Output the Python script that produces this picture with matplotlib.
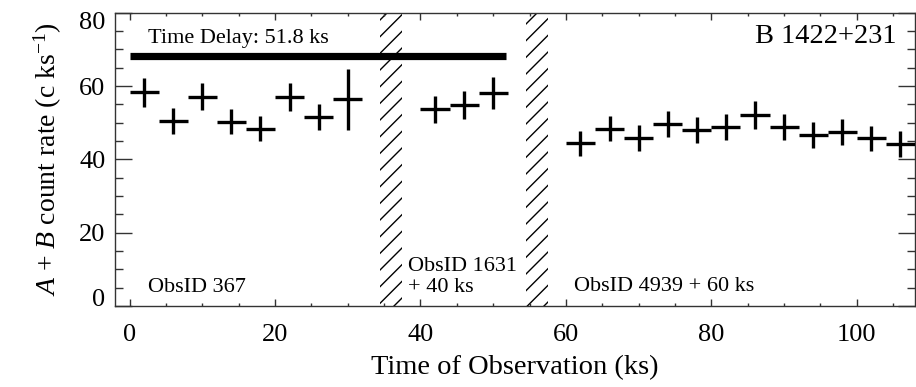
import matplotlib
matplotlib.use("Agg")
import matplotlib.pyplot as plt
from matplotlib.ticker import MultipleLocator
from matplotlib.transforms import ScaledTranslation

plt.rcParams['font.family'] = ['Liberation Serif', 'DejaVu Serif']
plt.rcParams['mathtext.fontset'] = 'custom'
plt.rcParams['mathtext.rm'] = 'Liberation Serif'
plt.rcParams['mathtext.it'] = 'Liberation Serif:italic'
plt.rcParams['hatch.linewidth'] = 1.0

# Binned light curve (4 ks bins), three Chandra observations shifted onto one time axis
times = [2, 6, 10, 14, 18, 22, 26, 30,
         42, 46, 50,
         62, 66, 70, 74, 78, 82, 86, 90, 94, 98, 102, 106]
rates = [58.3, 50.5, 57.1, 50.3, 48.4, 56.9, 51.6, 56.4,
         53.6, 54.9, 58.1,
         44.4, 48.4, 45.9, 49.6, 48.0, 48.9, 52.1, 48.9, 46.6, 47.5, 45.7, 44.2]
rate_err = [3.9, 3.5, 3.7, 3.5, 3.5, 3.8, 3.6, 8.3,
            3.6, 3.8, 4.3,
            3.4, 3.5, 3.5, 3.5, 3.5, 3.6, 3.7, 3.5, 3.5, 3.6, 3.4, 3.5]
bin_half_width = 2.0

# Gaps between observations
gaps = [(34.5, 37.5), (54.5, 57.5)]

time_delay = 51.8
delay_level = 68.2

xticks = [0, 20, 40, 60, 80, 100]
yticks = [0, 20, 40, 60, 80]

fig = plt.figure(figsize=(9.16, 3.87), dpi=100)
ax = fig.add_axes([115 / 916, 1 - 306 / 387, 800 / 916, 293.3 / 387])

for lo, hi in gaps:
    ax.axvspan(lo, hi, facecolor='none', edgecolor='black', hatch='//',
               linewidth=0, zorder=1)

ax.errorbar(times, rates, yerr=rate_err, xerr=bin_half_width, fmt='none',
            ecolor='black', elinewidth=2.4, capsize=0, zorder=3)

ax.plot([0, time_delay], [delay_level, delay_level], color='black',
        linewidth=5.2, solid_capstyle='butt', zorder=3)
ax.text(2.6, 71.6, f"Time Delay: {time_delay} ks", fontsize=16,
        va='baseline', ha='left')
ax.text(105.5, 71.6, "B 1422+231", fontsize=20.5, va='baseline', ha='right')

ax.text(2.5, 3.9, "ObsID 367", fontsize=16, va='baseline', ha='left')
ax.text(38.3, 9.5, "ObsID 1631", fontsize=16, va='baseline', ha='left')
ax.text(38.3, 3.9, "+ 40 ks", fontsize=16, va='baseline', ha='left')
ax.text(61.1, 4.2, "ObsID 4939 + 60 ks", fontsize=16, va='baseline', ha='left')

ax.set_xlim(-2, 108)
ax.set_ylim(0, 80)
ax.set_xticks(xticks)
ax.set_yticks(yticks)
ax.xaxis.set_minor_locator(MultipleLocator(5))
ax.yaxis.set_minor_locator(MultipleLocator(5))

ax.tick_params(axis='both', which='both', direction='in', top=True, right=True,
               width=1.0, color='#333333')
ax.tick_params(axis='x', which='major', length=4.8, pad=13, labelsize=19)
ax.tick_params(axis='x', which='minor', length=2.4)
ax.tick_params(axis='y', which='major', length=12, pad=7, labelsize=19)
ax.tick_params(axis='y', which='minor', length=6)

for s in ax.spines.values():
    s.set_linewidth(1.0)
    s.set_color('#333333')

ax.set_xlabel("Time of Observation (ks)", fontsize=20.5, labelpad=6.5)
ax.set_ylabel(r"$A$ + $B$ count rate (c ks$^{-1}$)", fontsize=20, labelpad=10.5)

# keep the end labels of the rate axis inside the frame height
fig.canvas.draw()
for tick in ax.yaxis.get_major_ticks():
    if tick.get_loc() == yticks[0]:
        tick.label1.set_verticalalignment('baseline')
    elif tick.get_loc() == yticks[-1]:
        tick.label1.set_transform(tick.label1.get_transform() +
                                  ScaledTranslation(0, -0.08, fig.dpi_scale_trans))

fig.savefig("out.png", dpi=100)
